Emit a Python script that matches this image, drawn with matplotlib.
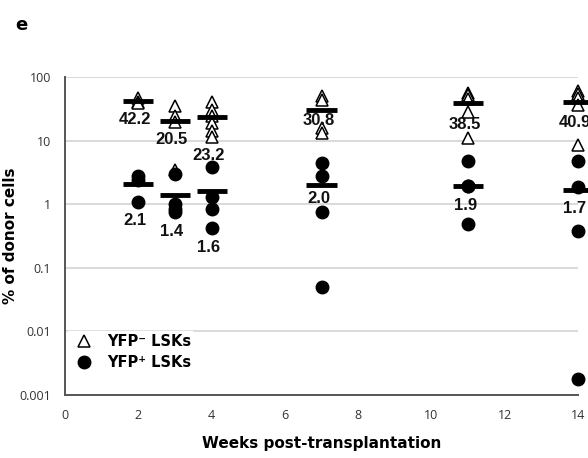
import matplotlib
matplotlib.use("Agg")
import matplotlib.pyplot as plt
from matplotlib.lines import Line2D

# Weeks after transplantation
weeks = [2, 3, 4, 7, 11, 14]

# Individual recipients, % of donor cells
yfp_neg = [
    [47, 40, 39.6],
    [35, 24, 19.5, 3.5],
    [41, 30, 24, 19, 14, 11.2],
    [50, 44, 16, 13.2],
    [56, 52, 45, 28.5, 11],
    [60, 54, 46, 36, 8.5],
]
yfp_pos = [
    [2.8, 2.4, 1.1],
    [3.0, 1.0, 0.85, 0.75],
    [3.9, 1.3, 0.85, 0.42],
    [4.4, 2.8, 0.76, 0.05],
    [4.8, 1.9, 1.9, 0.48],
    [4.7, 1.85, 0.38, 0.0018],
]

# Group means shown under each bar
mean_neg = [42.2, 20.5, 23.2, 30.8, 38.5, 40.9]
mean_pos = [2.1, 1.4, 1.6, 2.0, 1.9, 1.7]

y_ticks = [0.001, 0.01, 0.1, 1, 10, 100]
y_tick_labels = ["0.001", "0.01", "0.1", "1", "10", "100"]
x_ticks = [0, 2, 4, 6, 8, 10, 12, 14]

# label offsets (pixels) below each mean bar, chosen to clear the points
off_neg = [-19, -19, -38, -11, -21, -21]
off_pos = [-37, -37, -56, -13, -19, -19]

W, H = 588, 458
fig = plt.figure(figsize=(W / 100, H / 100), dpi=100)
ax = fig.add_axes([65 / W, 63 / H, (578 - 65) / W, (381 - 63) / H])

ax.set_yscale("log")
ax.set_ylim(0.001, 100)
ax.set_xlim(0, 14)

for v in y_ticks[1:]:
    ax.axhline(v, color="#d9d9d9", lw=1.4, zorder=0)

for s in ("top", "right"):
    ax.spines[s].set_visible(False)
for s in ("left", "bottom"):
    ax.spines[s].set_color("#555555")
    ax.spines[s].set_linewidth(1.4)

ax.set_yticks(y_ticks)
ax.set_yticklabels(y_tick_labels)
ax.set_xticks(x_ticks)
ax.minorticks_off()
ax.tick_params(length=0, labelsize=9, colors="#333333", pad=10)
for t in ax.get_xticklabels() + ax.get_yticklabels():
    t.set_family("Open Sans")

ms = 9
bar_half = 0.41
num_font = dict(family=["Liberation Sans Narrow", "Liberation Sans", "DejaVu Sans"],
                fontsize=12, fontweight="bold", color="#111111")

for i, w in enumerate(weeks):
    ax.plot([w] * len(yfp_neg[i]), yfp_neg[i], linestyle="none", marker="^",
            markersize=ms, markerfacecolor="white", markeredgecolor="black",
            markeredgewidth=1.1, clip_on=False, zorder=3)
    ax.plot([w] * len(yfp_pos[i]), yfp_pos[i], linestyle="none", marker="o",
            markersize=ms, markerfacecolor="black", markeredgecolor="black",
            clip_on=False, zorder=3)
    ax.hlines(mean_neg[i], w - bar_half, w + bar_half, colors="black", lw=3.5,
              clip_on=False, zorder=4)
    ax.hlines(mean_pos[i], w - bar_half, w + bar_half, colors="black", lw=3.5,
              clip_on=False, zorder=4)
    ax.annotate(f"{mean_neg[i]:.1f}", (w, mean_neg[i]), xytext=(-3, off_neg[i]),
                textcoords="offset pixels", ha="center", va="center",
                annotation_clip=False, zorder=5, **num_font)
    ax.annotate(f"{mean_pos[i]:.1f}", (w, mean_pos[i]), xytext=(-3, off_pos[i]),
                textcoords="offset pixels", ha="center", va="center",
                annotation_clip=False, zorder=5, **num_font)

handles = [
    Line2D([], [], linestyle="none", marker="^", markersize=ms,
           markerfacecolor="white", markeredgecolor="black", markeredgewidth=1.1),
    Line2D([], [], linestyle="none", marker="o", markersize=ms,
           markerfacecolor="black", markeredgecolor="black"),
]
leg = ax.legend(handles, ["YFP\u207b LSKs", "YFP\u207a LSKs"],
                loc="lower left", bbox_to_anchor=(-0.012, 0.045),
                frameon=True, framealpha=1, edgecolor="white", facecolor="white",
                handletextpad=0.6, labelspacing=0.45, borderpad=0.2,
                prop=dict(family=["DejaVu Sans"], weight="bold", size=10.5))
# above the gridlines, below the axis spines
leg.set_zorder(2)

ax.set_ylabel("% of donor cells", fontsize=11, fontweight="bold",
              family="DejaVu Sans")
ax.yaxis.set_label_coords(-0.092, 0.5)
ax.set_xlabel("Weeks post-transplantation", fontsize=11, fontweight="bold",
              family="DejaVu Sans", labelpad=10)

fig.text(15 / W, 1 - 25 / H, "e", fontsize=13, fontweight="bold",
         family="DejaVu Sans", va="center", ha="left")

fig.savefig("out.png", dpi=100)
